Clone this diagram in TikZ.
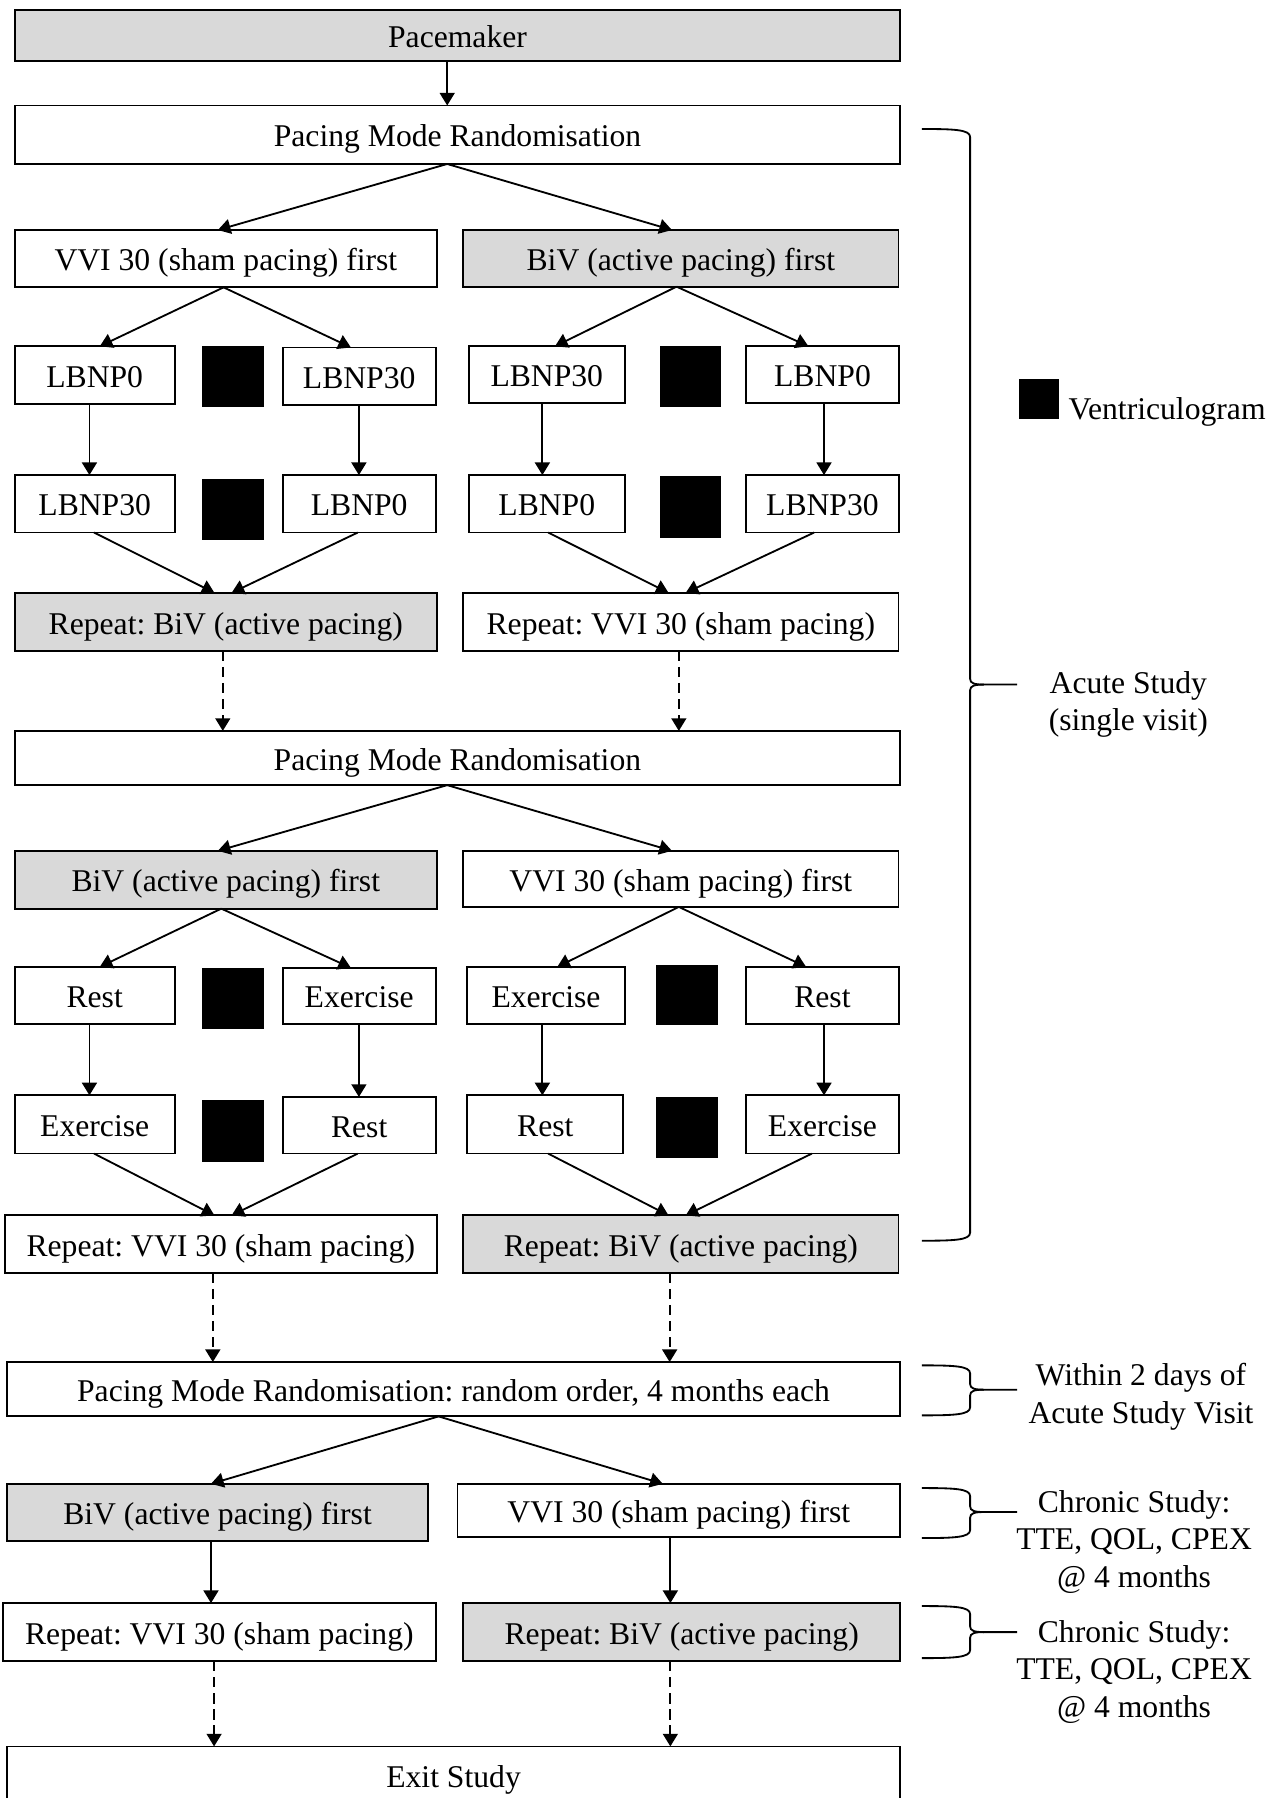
\documentclass[tikz,border=0pt]{standalone}
\usepackage{fontspec}
\setmainfont{Liberation Serif}
\frenchspacing
\usetikzlibrary{arrows.meta}
\definecolor{boxgray}{HTML}{D9D9D9}
% name, x1, y1, x2, y2, style, text
\newcommand\mybox[7]{\node[#6, minimum width={(#4-#2)*0.5pt}, minimum height={(#5-#3)*0.5pt}] (#1) at ({(#2+#4)/2},{(#3+#5)/2}) {#7};}
\newcommand\mysq[5]{\node[vsq, minimum width={(#4-#2)*0.5pt}, minimum height={(#5-#3)*0.5pt}] (#1) at ({(#2+#4)/2},{(#3+#5)/2}) {};}
% top y, middle y, bottom y
\newcommand\mybrace[3]{%
  \draw[brc] (804,#1) .. controls (832,#1) and (846,{#1+0.5}) .. (846,{#1+7}) -- (846,{#2-5}) .. controls (846,{#2-1}) and (850,#2) .. (858,#2) -- (887,#2);
  \draw[brc] (858,#2) .. controls (850,#2) and (846,{#2+1}) .. (846,{#2+5}) -- (846,{#3-7}) .. controls (846,{#3-0.5}) and (832,#3) .. (804,#3);}
\begin{document}
\begin{tikzpicture}[x=0.5pt,y=-0.5pt,
  box/.style={draw, line width=0.8pt, inner sep=0pt, outer sep=0pt, font=\fontsize{13.8}{16.5}\selectfont\frenchspacing, text height=10.6pt, text depth=0pt},
  gbox/.style={box, fill=boxgray},
  vsq/.style={fill=black, inner sep=0pt, outer sep=0pt},
  arr/.style={line width=0.8pt, -{Triangle[length=5.5pt,width=6.5pt]}},
  darr/.style={arr, dash pattern=on 4.5pt off 2.5pt},
  brc/.style={line width=0.8pt},
  lbl/.style={align=center, inner sep=0pt, font=\fontsize{13.8}{16.25}\selectfont}]
\useasboundingbox (0,0) rectangle (1120,1568);

% ---------- boxes ----------
\mybox{pm}{13}{8.5}{785}{53.5}{gbox}{Pacemaker}
\mybox{pmr1}{13}{92}{785}{143}{box}{Pacing Mode Randomisation}
\mybox{a1}{13}{200.6}{381}{250.6}{box}{VVI 30 (sham pacing) first}
\mybox{b1}{404}{200.6}{783.5}{250}{gbox}{BiV (active pacing) first}

\mybox{l1a}{12.8}{302}{152.4}{352}{box}{LBNP0}
\mysq{sq1}{176.4}{302}{230.1}{355}
\mybox{l1b}{246.5}{303}{380}{353.5}{box}{LBNP30}
\mybox{l2a}{12.8}{414.3}{152.4}{464.4}{box}{LBNP30}
\mysq{sq2}{176.4}{417.3}{230.1}{471}
\mybox{l2b}{246.5}{414.3}{380}{464.4}{box}{LBNP0}

\mybox{r1a}{409}{302}{544.7}{351.5}{box}{LBNP30}
\mysq{sq3}{575.4}{302}{629}{355}
\mybox{r1b}{650.5}{302}{784}{351.5}{box}{LBNP0}
\mybox{r2a}{409}{414.3}{544.7}{464.4}{box}{LBNP0}
\mysq{sq4}{575.4}{415.2}{629}{469}
\mybox{r2b}{650.5}{414.3}{784}{464.4}{box}{LBNP30}

\mybox{rep1}{12.8}{517}{381}{567.6}{gbox}{Repeat: BiV (active pacing)}
\mybox{rep2}{404}{517}{783.5}{567.6}{box}{Repeat: VVI 30 (sham pacing)}

\mybox{pmr2}{12.8}{637.4}{785}{684.7}{box}{Pacing Mode Randomisation}
\mybox{a2}{12.8}{742}{381}{792.4}{gbox}{BiV (active pacing) first}
\mybox{b2}{404}{742}{783.5}{790.9}{box}{VVI 30 (sham pacing) first}

\mybox{m1a}{12.8}{843.2}{152.4}{892.7}{box}{Rest}
\mysq{sq5}{176.4}{844.1}{230.1}{897}
\mybox{m1b}{246.5}{844}{380}{892.7}{box}{Exercise}
\mybox{n1a}{407.6}{843.2}{544.7}{892.7}{box}{Exercise}
\mysq{sq6}{571.8}{841.2}{626.5}{894.1}
\mybox{n1b}{650.5}{843.2}{784}{892.7}{box}{Rest}

\mybox{m2a}{12.8}{955.2}{152.4}{1006}{box}{Exercise}
\mysq{sq7}{176.4}{959.5}{230.1}{1013.4}
\mybox{m2b}{246.5}{956.6}{380}{1006}{box}{Rest}
\mybox{n2a}{407.6}{955.2}{543.5}{1006}{box}{Rest}
\mysq{sq8}{571.8}{956.6}{626.5}{1009.8}
\mybox{n2b}{650.5}{955.2}{784}{1006}{box}{Exercise}

\mybox{rep3}{4.1}{1059.9}{381}{1110}{box}{Repeat: VVI 30 (sham pacing)}
\mybox{rep4}{404}{1059.9}{783.5}{1110}{gbox}{Repeat: BiV (active pacing)}

\mybox{pmr3}{6.1}{1187.8}{785}{1235.2}{box}{Pacing Mode Randomisation: random order, 4 months each}
\mybox{c1}{6.1}{1294}{373.3}{1343.9}{gbox}{BiV (active pacing) first}
\mybox{c2}{399}{1294}{785}{1340.6}{box}{VVI 30 (sham pacing) first}
\mybox{d1}{2.6}{1398}{380}{1448.6}{box}{Repeat: VVI 30 (sham pacing)}
\mybox{d2}{404}{1398}{785}{1448.6}{gbox}{Repeat: BiV (active pacing)}
\mybox{exit}{6.1}{1523}{785}{1573}{box}{Exit Study}

% ---------- arrows ----------
\draw[arr] (pm.south -| 390,0) -- (pmr1.north -| 390,0);
\draw[arr] (pmr1.south -| 390,0) -- (a1.north -| 190,0);
\draw[arr] (pmr1.south -| 390,0) -- (b1.north -| 586,0);

\draw[arr] (a1.south -| 195,0) -- (l1a.north -| 87,0);
\draw[arr] (a1.south -| 195,0) -- (l1b.north -| 306,0);
\draw[arr] (b1.south -| 590,0) -- (r1a.north -| 484,0);
\draw[arr] (b1.south -| 590,0) -- (r1b.north -| 705,0);

\draw[arr] (l1a.south -| 78,0) -- (l2a.north -| 78,0);
\draw[arr] (l1b.south -| 313,0) -- (l2b.north -| 313,0);
\draw[arr] (r1a.south -| 473,0) -- (r2a.north -| 473,0);
\draw[arr] (r1b.south -| 718.6,0) -- (r2b.north -| 718.6,0);

\draw[arr] (l2a.south -| 82,0) -- (rep1.north -| 187,0);
\draw[arr] (l2b.south -| 312,0) -- (rep1.north -| 202,0);
\draw[arr] (r2a.south -| 478,0) -- (rep2.north -| 583,0);
\draw[arr] (r2b.south -| 710,0) -- (rep2.north -| 598,0);

\draw[darr] (rep1.south -| 194.3,0) -- (pmr2.north -| 194.3,0);
\draw[darr] (rep2.south -| 592,0) -- (pmr2.north -| 592,0);

\draw[arr] (pmr2.south -| 390,0) -- (a2.north -| 190,0);
\draw[arr] (pmr2.south -| 390,0) -- (b2.north -| 586,0);

\draw[arr] (a2.south -| 193,0) -- (m1a.north -| 87,0);
\draw[arr] (a2.south -| 193,0) -- (m1b.north -| 306,0);
\draw[arr] (b2.south -| 592,0) -- (n1a.north -| 486,0);
\draw[arr] (b2.south -| 592,0) -- (n1b.north -| 703,0);

\draw[arr] (m1a.south -| 78,0) -- (m2a.north -| 78,0);
\draw[arr] (m1b.south -| 313,0) -- (m2b.north -| 313,0);
\draw[arr] (n1a.south -| 473,0) -- (n2a.north -| 473,0);
\draw[arr] (n1b.south -| 718.6,0) -- (n2b.north -| 718.6,0);

\draw[arr] (m2a.south -| 82,0) -- (rep3.north -| 187,0);
\draw[arr] (m2b.south -| 312,0) -- (rep3.north -| 202,0);
\draw[arr] (n2a.south -| 478,0) -- (rep4.north -| 583,0);
\draw[arr] (n2b.south -| 708,0) -- (rep4.north -| 598,0);

\draw[darr] (rep3.south -| 185.6,0) -- (pmr3.north -| 185.6,0);
\draw[darr] (rep4.south -| 584,0) -- (pmr3.north -| 584,0);

\draw[arr] (pmr3.south -| 382.5,0) -- (c1.north -| 184,0);
\draw[arr] (pmr3.south -| 382.5,0) -- (c2.north -| 578,0);

\draw[arr] (c1.south -| 184,0) -- (d1.north -| 184,0);
\draw[arr] (c2.south -| 584.6,0) -- (d2.north -| 584.6,0);

\draw[darr] (d1.south -| 186.7,0) -- (exit.north -| 186.7,0);
\draw[darr] (d2.south -| 584.6,0) -- (exit.north -| 584.6,0);

% ---------- right side ----------
\mysq{legsq}{888.8}{330.4}{923.8}{365}
\node[anchor=base west, inner sep=0pt, font=\fontsize{13.8}{16.5}\selectfont] (legtxt) at (931.6,365.5) {Ventriculogram};

\mybrace{112.5}{597}{1082}
\node[lbl] (acute) at (984,614.6) {Acute Study\\(single visit)};

\mybrace{1190.7}{1211.9}{1234.3}
\node[lbl, font=\fontsize{13.8}{16.5}\selectfont] (within) at (995,1218) {Within 2 days of\\Acute Study Visit};

\mybrace{1297.7}{1318.6}{1341.3}
\node[lbl] (chr1) at (989,1344.6) {Chronic Study:\\TTE, QOL, CPEX\\@ 4 months};

\mybrace{1400.6}{1423.3}{1446}
\node[lbl] (chr2) at (989,1458) {Chronic Study:\\TTE, QOL, CPEX\\@ 4 months};
\end{tikzpicture}
\end{document}
